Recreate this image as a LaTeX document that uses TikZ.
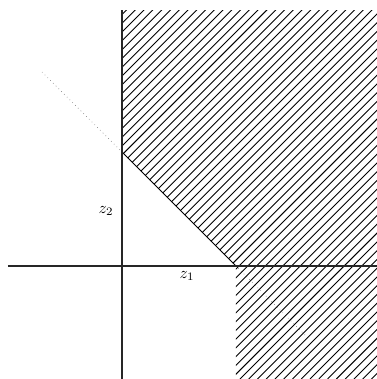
\documentclass[tikz,border=0pt]{standalone}
\begin{document}
\begin{tikzpicture}[x=0.02157cm,y=-0.02157cm,
  axis/.style={line width=0.8pt,black!85},
  hatchline/.style={line width=0.55pt,black},
  boundary/.style={line width=0.6pt,black},
  dotline/.style={dotted,line width=0.4pt,black!55},
  lab/.style={inner sep=0pt}]
\useasboundingbox (0,0) rectangle (377,379);
% key points
\coordinate (top) at (122,10);
\coordinate (bot) at (122,379);
\coordinate (left) at (8,266);
\coordinate (right) at (377,266);
\coordinate (A) at (122,152);
\coordinate (B) at (236,266);
\coordinate (D1) at (42,72);
\coordinate (D2) at (308,338);
% dotted line
\draw[dotline] (D1) -- (D2);
% hatched region
\begin{scope}
  \clip (122,10) -- (377,10) -- (377,379) -- (236,379) -- (B) -- (A) -- cycle;
  \foreach \k in {0,...,87} {
    \pgfmathsetmacro{\kk}{5.0+\k*8.77}
    \draw[hatchline] (\kk-379,379) -- (\kk,0);
  }
\end{scope}
\draw[boundary] (A) -- (B);
% axes
\draw[axis] (left) -- (right);
\draw[axis] (top) -- (bot);
% labels
\node[lab] (z2) at (106,211) {$z_2$};
\node[lab] (z1) at (187,276) {$z_1$};
\end{tikzpicture}
\end{document}
